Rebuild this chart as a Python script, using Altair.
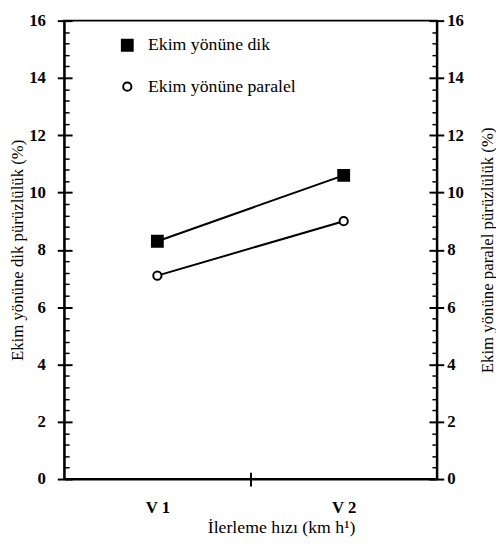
import altair as alt
import pandas as pd

# ---- data ----
speeds = ["V 1", "V 2"]
speed_pos = [1, 2]
series = ["Ekim yönüne dik", "Ekim yönüne paralel"]
dik = [8.3, 10.6]
paralel = [7.1, 9.0]

rows = []
for s, vals in zip(series, [dik, paralel]):
    for sp, p, v in zip(speeds, speed_pos, vals):
        rows.append({"series": s, "speed": sp, "pos": p, "value": v})
df = pd.DataFrame(rows)

FONT = "'Liberation Serif', 'Times New Roman', serif"
major = list(range(0, 17, 2))
minor = [round(i * 0.4, 1) for i in range(41) if i % 5]

W, H = 378, 465

def xs():
    return alt.Scale(domain=[0.5, 2.5], nice=False, zero=False)

def ys():
    return alt.Scale(domain=[0, 16], nice=False, zero=True)

base = alt.Chart(df)

def yaxis_layer(axis):
    return base.mark_point(opacity=0).encode(
        x=alt.X("pos:Q", scale=xs(), axis=None),
        y=alt.Y("value:Q", scale=ys(), axis=axis),
    )

def xaxis_layer(axis):
    return base.mark_point(opacity=0).encode(
        x=alt.X("pos:Q", scale=xs(), axis=axis),
        y=alt.Y("value:Q", scale=ys(), axis=None),
    )

common_main = dict(
    values=major, tickSize=7, tickWidth=2, tickColor="black",
    domain=True, domainWidth=2, domainColor="black", grid=False,
    labelFont=FONT, labelFontSize=17, labelFontWeight="bold", labelColor="black",
    titleFont=FONT, titleFontSize=17, titleFontWeight="normal", titleColor="black",
    titleAngle=270, titleAlign="center", titleBaseline="middle", titleY=H / 2,
)

left_main = yaxis_layer(alt.Axis(
    orient="left", title="Ekim yönüne dik pürüzlülük (%)",
    labelPadding=12, titleX=-47, **common_main))
right_main = yaxis_layer(alt.Axis(
    orient="right", title="Ekim yönüne paralel pürüzlülük (%)",
    labelPadding=3, labelAlign="left", titleX=51, **common_main))

def inner(orient, vals, size, width):
    return yaxis_layer(alt.Axis(
        orient=orient, values=vals, offset=-size, tickSize=size, tickWidth=width,
        tickColor="black", domain=False, labels=False, grid=False, title=None))

left_in_major = inner("left", major, 8, 2)
left_in_minor = inner("left", minor, 5, 1.5)
right_in_major = inner("right", major, 8, 2)
right_in_minor = inner("right", minor, 5, 1.5)

x_main = xaxis_layer(alt.Axis(
    orient="bottom", values=[1, 1.5, 2], tickSize=7, tickWidth=2, tickColor="black",
    tickOpacity={"condition": {"test": "datum.value == 1.5", "value": 1}, "value": 0},
    labelExpr="datum.value == 1 ? 'V 1' : (datum.value == 2 ? 'V 2' : '')",
    domain=True, domainWidth=2, domainColor="black", grid=False,
    labelFont=FONT, labelFontSize=17, labelFontWeight="bold", labelColor="black",
    labelPadding=14,
    title="İlerleme hızı (km h¹)", titleFont=FONT, titleFontSize=18,
    titleFontWeight="normal", titleColor="black",
    titleX=220, titleY=49, titleAlign="center", titleBaseline="middle",
))
x_in = xaxis_layer(alt.Axis(
    orient="bottom", values=[1.5], offset=-7, tickSize=7, tickWidth=2,
    tickColor="black", domain=False, labels=False, grid=False, title=None))

lines = base.mark_line(color="black", strokeWidth=2).encode(
    x=alt.X("pos:Q", scale=xs(), axis=None),
    y=alt.Y("value:Q", scale=ys(), axis=None),
    detail="series:N",
)

leg = alt.Legend(
    title=None, orient="none", legendX=55, legendY=16,
    labelFont=FONT, labelFontSize=18, labelColor="black",
    symbolStrokeColor="black", symbolStrokeWidth=2,
    rowPadding=23, labelOffset=12,
)
points = base.mark_point(opacity=1, strokeWidth=2, fillOpacity=1, strokeOpacity=1).encode(
    x=alt.X("pos:Q", scale=xs(), axis=None),
    y=alt.Y("value:Q", scale=ys(), axis=None),
    shape=alt.Shape("series:N", scale=alt.Scale(domain=series, range=["square", "circle"]),
                    legend=leg),
    fill=alt.Fill("series:N", scale=alt.Scale(domain=series, range=["black", "white"]),
                  legend=leg),
    stroke=alt.Stroke("series:N", scale=alt.Scale(domain=series, range=["black", "black"]),
                      legend=leg),
    size=alt.Size("series:N", scale=alt.Scale(domain=series, range=[121, 70]), legend=leg),
)

chart = alt.layer(
    left_main, left_in_major, left_in_minor,
    right_main, right_in_major, right_in_minor,
    x_main, x_in, lines, points,
).resolve_scale(
    x="independent", y="independent"
).properties(
    width=W, height=H,
    autosize=alt.AutoSizeParams(type="none"),
    padding={"left": 57, "top": 9, "right": 60, "bottom": 58},
).configure(
    font=FONT
).configure_view(
    stroke="black", strokeWidth=2
).configure_legend(
    labelFont=FONT, labelFontSize=18, labelColor="black",
)

chart.save("out.html", embed_options={"renderer": "svg", "actions": False})
